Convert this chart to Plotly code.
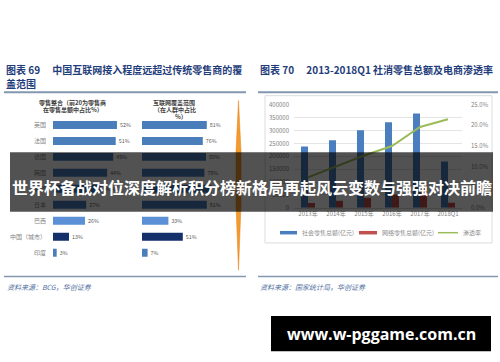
import plotly.graph_objects as go

W, H = 500, 362

# ---------------- data ----------------
countries = ["英国", "法国", "德国", "韩国", "美国", "日本", "巴西", "中国（城市）", "印度"]
retail_top20_share = [52, 51, 49, 44, 40, 27, 26, 13, 3]
internet_coverage = [81, 76, 80, 78, 87, 81, 33, 51, 7]

years = ["2013年", "2014年", "2015年", "2016年", "2017年", "2018Q1"]
social_retail = [237810, 262394, 300931, 332316, 366262, 180000]
online_retail = [18851, 27898, 38773, 51556, 71751, 19815]
penetration = [0.074, 0.101, 0.127, 0.150, 0.196, 0.215]

# ---------------- styles ----------------
left_colors = ["#4a7ebb", "#4a7ebb", "#4a7ebb", "#4a7ebb", "#4a7ebb", "#4a7ebb", "#5b8fd6", "#14306b", "#4a7ebb"]
FONT = "Noto Sans CJK SC"


def px(x):
    return x / W


def py(y):
    return 1 - y / H


fig = go.Figure()

# left chart: retail integration
fig.add_trace(go.Bar(
    x=retail_top20_share, y=countries, orientation="h", xaxis="x", yaxis="y",
    marker=dict(color=left_colors, line=dict(width=0)),
    text=[f"{v}%" for v in retail_top20_share], textposition="outside",
    textfont=dict(size=6, color="#595959", family=FONT), cliponaxis=False,
    showlegend=False, hoverinfo="skip"))
# left chart: internet coverage
fig.add_trace(go.Bar(
    x=internet_coverage, y=countries, orientation="h", xaxis="x2", yaxis="y",
    marker=dict(color=left_colors, line=dict(width=0)),
    text=[f"{v}%" for v in internet_coverage], textposition="outside",
    textfont=dict(size=6, color="#595959", family=FONT), cliponaxis=False,
    showlegend=False, hoverinfo="skip"))

# right chart
fig.add_trace(go.Bar(x=years, y=social_retail, xaxis="x3", yaxis="y3",
                     marker=dict(color="#4a7ebf", line=dict(width=0)),
                     name="社会零售总额(亿元)", showlegend=False))
fig.add_trace(go.Bar(x=years, y=online_retail, xaxis="x3", yaxis="y3",
                     marker=dict(color="#c0504d", line=dict(width=0)),
                     name="网络零售总额(亿元)", showlegend=False))
fig.add_trace(go.Scatter(x=years, y=penetration, xaxis="x3", yaxis="y4", mode="lines",
                         line=dict(color="#9bbb59", width=2),
                         name="渗透率", showlegend=False))

tickfont = dict(size=6, color="#7f7f7f", family=FONT)

fig.update_layout(
    width=W, height=H, margin=dict(l=0, r=0, t=0, b=0),
    paper_bgcolor="white", plot_bgcolor="rgba(0,0,0,0)",
    barmode="group", bargap=0.5, bargroupgap=0,
    font=dict(family=FONT),
    xaxis=dict(domain=[px(53), px(176)], range=[0, 100], visible=False, anchor="y"),
    xaxis2=dict(domain=[px(142), px(222)], range=[0, 100], visible=False, anchor="y"),
    yaxis=dict(domain=[py(262.2), py(114.8)], type="category", categoryarray=countries,
               range=[8.5, -0.5], showgrid=False, showline=False, zeroline=False,
               ticks="", tickfont=dict(size=6, color="#7f7f7f", family=FONT),
               ticklabelstandoff=6, anchor="x"),
    xaxis3=dict(domain=[px(294), px(462)], anchor="y3", type="category",
                showgrid=False, showline=True, linecolor="#d9d9d9", linewidth=1,
                ticks="", tickfont=tickfont),
    yaxis3=dict(domain=[py(208), py(102.3)], range=[0, 400000], dtick=50000,
                showgrid=True, gridcolor="#e4e4e4", gridwidth=1, zeroline=False,
                showline=False, ticks="", tickfont=tickfont, anchor="x3",
                tickformat="d", ticklabelstandoff=4),
    yaxis4=dict(domain=[py(208), py(102.3)], range=[0, 0.25], dtick=0.05,
                overlaying="y3", side="right", anchor="x3", showgrid=False,
                zeroline=False, showline=False, ticks="", tickfont=tickfont,
                tickformat=".1%", ticklabelstandoff=8),
)

shapes = []
annotations = []


def line(x0, y0, x1, y1, color, width):
    shapes.append(dict(type="line", xref="paper", yref="paper",
                       x0=px(x0), y0=py(y0), x1=px(x1), y1=py(y1),
                       line=dict(color=color, width=width), layer="above"))


def rect(x0, y0, x1, y1, fill, linecolor=None, lw=0, layer="above"):
    shapes.append(dict(type="rect", xref="paper", yref="paper",
                       x0=px(x0), y0=py(y0), x1=px(x1), y1=py(y1),
                       fillcolor=fill, line=dict(color=linecolor or fill, width=lw),
                       layer=layer))


def text(x, y, s, size, color, anchor="left", bold=False, family=FONT, italic=False):
    if bold:
        s = f"<b>{s}</b>"
    if italic:
        s = f"<i>{s}</i>"
    annotations.append(dict(x=px(x), y=py(y), xref="paper", yref="paper", text=s,
                            showarrow=False, xanchor=anchor, yanchor="middle",
                            font=dict(size=size, color=color, family=family)))


# titles
TITLE_C = "#1f3d7a"
text(4, 66, "图表 69　 中国互联网接入程度远超过传统零售商的覆", 10, TITLE_C, bold=True)
text(4, 80, "盖范围", 10, TITLE_C, bold=True)
text(258, 66, "图表 70　 2013-2018Q1 社消零售总额及电商渗透率", 10, TITLE_C, bold=True)
line(4, 89.5, 246, 89.5, "#8497b0", 2)
line(258, 89.5, 498, 89.5, "#8497b0", 2)

# left headers
HC = "#404040"
text(72, 99.5, "零售整合（前20为零售商", 6, HC, anchor="center", bold=True)
text(73, 107, "在零售总额中占比%）", 6, HC, anchor="center", bold=True)
text(174, 99.5, "互联网覆盖范围", 6, HC, anchor="center", bold=True)
text(175, 107, "（在人群中占比", 6, HC, anchor="center", bold=True)
text(181, 114.5, "%）", 6, HC, anchor="center", bold=True)

# orange divider
pts = [(238.5, 98), (241, 150), (241, 205), (238.5, 272), (236, 205), (236, 150)]
path = "M " + " L ".join(f"{px(a)},{py(b)}" for a, b in pts) + " Z"
shapes.append(dict(type="path", xref="paper", yref="paper", path=path,
                   fillcolor="#f29a2e", line=dict(color="#e8801a", width=0.5), layer="above"))

# right chart box
rect(265, 93, 492, 244, "rgba(0,0,0,0)", "#dcdcdc", 1, layer="below")

# custom legend
LC = "#8c8c8c"
line(280, 233.5, 297, 233.5, "#4a7ebf", 3.5)
text(300, 233.5, "社会零售总额(亿元)", 6, LC)
line(359, 233.5, 377, 233.5, "#c0504d", 3.5)
text(380, 233.5, "网络零售总额(亿元)", 6, LC)
line(438, 233.5, 458, 233.5, "#9bbb59", 1.5)
text(461, 233.5, "渗透率", 6, LC)

# sources
SC = "#4f6fa0"
line(4, 278.5, 246, 278.5, "#8497b0", 1.5)
line(258, 278.5, 498, 278.5, "#8497b0", 1.5)
text(5, 289, "资料来源：BCG，华创证券", 7, SC, italic=True)
text(258, 289, "资料来源：国家统计局，华创证券", 7, SC, italic=True)

# banner overlay
rect(10, 151, 493, 212, "rgba(0,0,0,0.68)")
text(251.5, 187, "世界杯备战对位深度解析积分榜新格局再起风云变数与强强对决前瞻", 16, "white",
     anchor="center", bold=True)

# watermark
rect(271, 319, 491, 355, "black")
text(381, 337, "www.w-pggame.com.cn", 16, "white", anchor="center", bold=True,
     family="Open Sans")

fig.update_layout(shapes=shapes, annotations=annotations)
fig.write_html("out.html")
